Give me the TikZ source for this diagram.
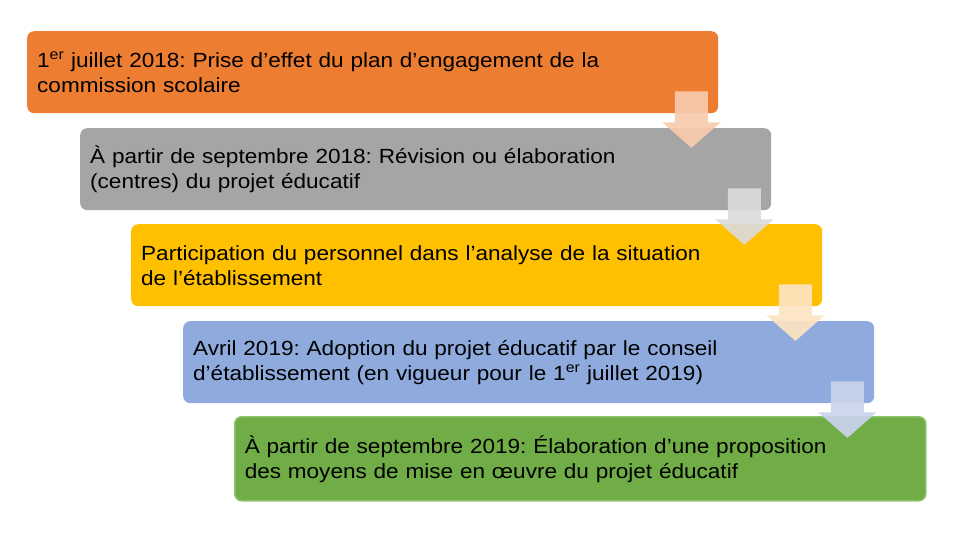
\documentclass[tikz,border=0pt]{standalone}
\usepackage{fontspec}
\setmainfont[FakeStretch=1.1]{Liberation Sans}
\usepackage{tikz}
\usetikzlibrary{calc}
\frenchspacing

\definecolor{stageorange}{HTML}{ED7D31}
\definecolor{stagegray}{HTML}{A5A5A5}
\definecolor{stagegold}{HTML}{FFC000}
\definecolor{stageblue}{HTML}{8FAADC}
\definecolor{stagegreen}{HTML}{70AD47}
\definecolor{greenedge}{HTML}{8DC26B}
\definecolor{arroworange}{HTML}{F8CBAD}
\definecolor{arrowgray}{HTML}{DBDBDB}
\definecolor{arrowgold}{HTML}{FDE3C3}
\definecolor{arrowblue}{HTML}{C9D4EC}

\tikzset{
	stage/.style={anchor=north west, rounded corners=7pt, minimum width=691pt,
		minimum height=82pt, text width=671pt, inner sep=10pt, align=left,
		font=\fontsize{20.5}{25}\selectfont},
	flow/.style={opacity=0.92}
}

% block arrow under the right end of a stage box
\newcommand{\stagearrow}[2]{%
	\fill[flow, #2] ($(#1.south east)+(-43.5,-22)$) -- ++(33,0) -- ++(0,31)
		-- ++(12.5,0) -- ++(-29,25.5) -- ++(-29,-25.5) -- ++(12.5,0) -- cycle;}

\begin{document}
\begin{tikzpicture}[x=1pt,y=-1pt]
	\useasboundingbox (0,0) rectangle (960,540);
	\node[stage, fill=stageorange] (s1) at (27,31)
		{1\textsuperscript{er} juillet 2018: Prise d’effet du plan d’engagement de la\\commission scolaire};
	\node[stage, fill=stagegray] (s2) at (80,128)
		{À partir de septembre 2018: Révision ou élaboration\\(centres) du projet éducatif};
	\node[stage, fill=stagegold] (s3) at (131,224)
		{Participation du personnel dans l’analyse de la situation\\de l’établissement};
	\node[stage, fill=stageblue] (s4) at (183,321)
		{Avril 2019: Adoption du projet éducatif par le conseil\\d’établissement (en vigueur pour le 1\textsuperscript{er} juillet 2019)};
	\node[stage, fill=stagegreen, draw=greenedge, line width=1.5pt, minimum height=84pt] (s5) at (234,416)
		{À partir de septembre 2019: Élaboration d’une proposition\\des moyens de mise en œuvre du projet éducatif};
	\stagearrow{s1}{arroworange}
	\stagearrow{s2}{arrowgray}
	\stagearrow{s3}{arrowgold}
	\stagearrow{s4}{arrowblue}
\end{tikzpicture}
\end{document}
